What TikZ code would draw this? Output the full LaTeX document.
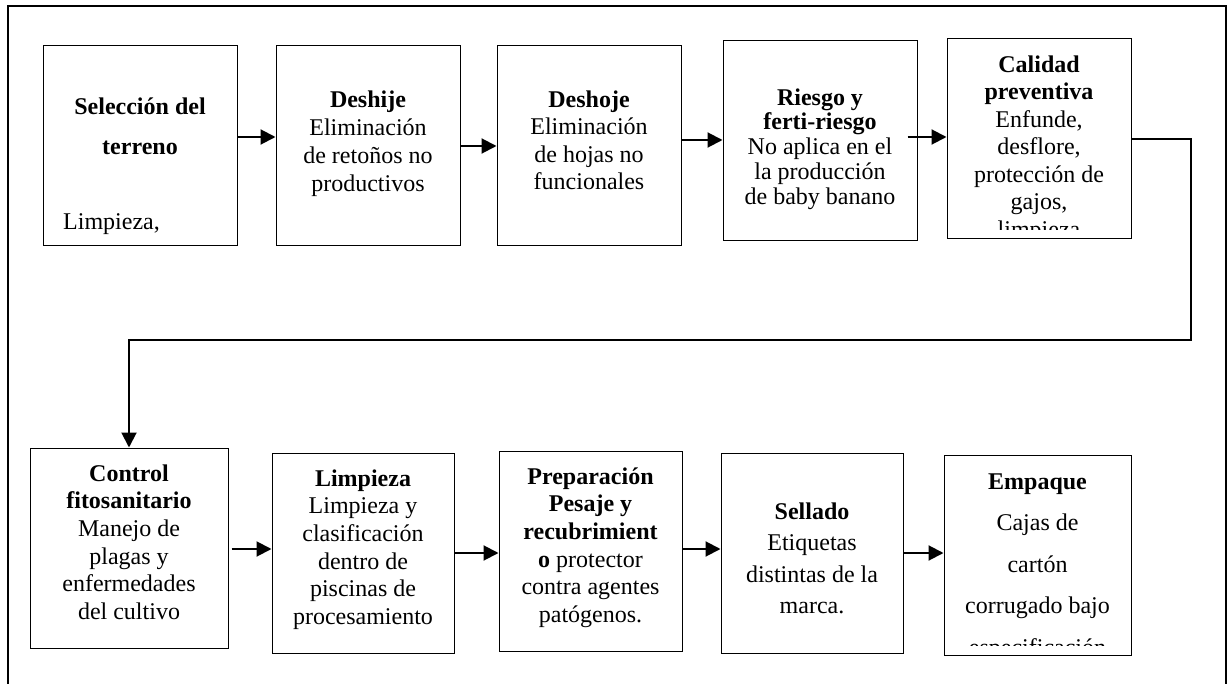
\documentclass[tikz,border=0pt]{standalone}
\usepackage{fontspec}
\setmainfont{Liberation Serif}
\usetikzlibrary{arrows.meta,calc}
\begin{document}
\begin{tikzpicture}[x=1pt,y=-1pt,
  box/.style={draw=black, line width=1pt, inner sep=0pt, minimum height=200pt},
  txt/.style={anchor=north, inner sep=0pt, align=center, font=\fontsize{24}{#1}\selectfont},
  arr/.style={line width=2pt, -{Triangle[length=15pt,width=15pt]}},
  frameline/.style={line width=2.5pt}]
\useasboundingbox (0,0) rectangle (1228,684);
\clip (0,0) rectangle (1228,684);
\draw[frameline] (8,700) -- (8,6) -- (1226,6) -- (1226,700);

% top row boxes
\node[box, minimum width=194pt] (b1) at (140,146) {};
\node[box, minimum width=184pt] (b2) at (368,146) {};
\node[box, minimum width=184pt] (b3) at (589,146) {};
\node[box, minimum width=194pt] (b4) at (820,141) {};
\node[box, minimum width=184pt] (b5) at (1039,139) {};
% bottom row boxes
\node[box, minimum width=198pt] (b6) at (129,548) {};
\node[box, minimum width=182pt] (b7) at (363,553) {};
\node[box, minimum width=183pt] (b8) at (590.5,551) {};
\node[box, minimum width=182pt] (b9) at (812,553) {};
\node[box, minimum width=187pt] (b10) at (1037.5,555) {};

% texts
\node[txt=40] (t1) at (140,96) {\rule{0pt}{18pt}\textbf{Selección del}\\\textbf{terreno}};
\node[anchor=base west, inner sep=0pt, font=\fontsize{24}{28}\selectfont] (t1b) at (63,230) {Limpieza,};
\node[txt=28] (t2) at (368,89) {\rule{0pt}{18pt}\textbf{Deshije}\\Eliminación\\de retoños no\\productivos};
\node[txt=27.5] (t3) at (589,89) {\rule{0pt}{18pt}\textbf{Deshoje}\\Eliminación\\de hojas no\\funcionales};
\node[txt=24.75] (t4) at (820,87) {\rule{0pt}{18pt}\textbf{Riesgo y}\\\textbf{ferti-riesgo}\\No aplica en el\\la producción\\de baby banano};
\begin{scope}
\clip (b5.north west) rectangle ([yshift=10pt]b5.south east);
\node[txt=27.5] (t5) at (1039,54) {\rule{0pt}{18pt}\textbf{Calidad}\\\textbf{preventiva}\\Enfunde,\\desflore,\\protección de\\gajos,\\limpieza};
\end{scope}
\node[txt=27.6] (t6) at (129,463) {\rule{0pt}{18pt}\textbf{Control}\\\textbf{fitosanitario}\\Manejo de\\plagas y\\enfermedades\\del cultivo};
\node[txt=27.6] (t7) at (363,468) {\rule{0pt}{18pt}\textbf{Limpieza}\\Limpieza y\\clasificación\\dentro de\\piscinas de\\procesamiento};
\node[txt=27.6] (t8) at (590.5,466) {\rule{0pt}{18pt}\textbf{Preparación}\\\textbf{Pesaje y}\\\textbf{recubrimient}\\\textbf{o} protector\\contra agentes\\patógenos.};
\node[txt=31.5] (t9) at (812,501) {\rule{0pt}{18pt}\textbf{Sellado}\\Etiquetas\\distintas de la\\marca.};
\begin{scope}
\clip (b10.north west) rectangle ([yshift=10pt]b10.south east);
\node[txt=41.5] (t10) at (1037.5,471) {\rule{0pt}{18pt}\textbf{Empaque}\\Cajas de\\cartón\\corrugado bajo\\especificación};
\end{scope}

% arrows top row
\draw[arr] ($(b1.east)+(0,-9)$) -- ($(b2.west)+(0,-9)$);
\draw[arr] (b2.east) -- (b3.west);
\draw[arr] ($(b3.east)+(0,-6)$) -- ($(b4.west)+(0,-1)$);
\draw[arr] ($(b4.east)+(-10,-4)$) -- ($(b5.west)+(0,-2)$);
% connector
\coordinate (c1) at (1191,139);
\coordinate (c2) at (1191,340);
\coordinate (c3) at (129,340);
\draw[arr] (b5.east) -- (c1) -- (c2) -- (c3) -- (b6.north);
% arrows bottom row
\draw[arr] ($(b6.east)+(3,1)$) -- ($(b7.west)+(0,-4)$);
\draw[arr] (b7.east) -- ($(b8.west)+(0,2)$);
\draw[arr] ($(b8.east)+(0,-2)$) -- ($(b9.west)+(0,-4)$);
\draw[arr] (b9.east) -- ($(b10.west)+(0,-2)$);
\end{tikzpicture}
\end{document}
